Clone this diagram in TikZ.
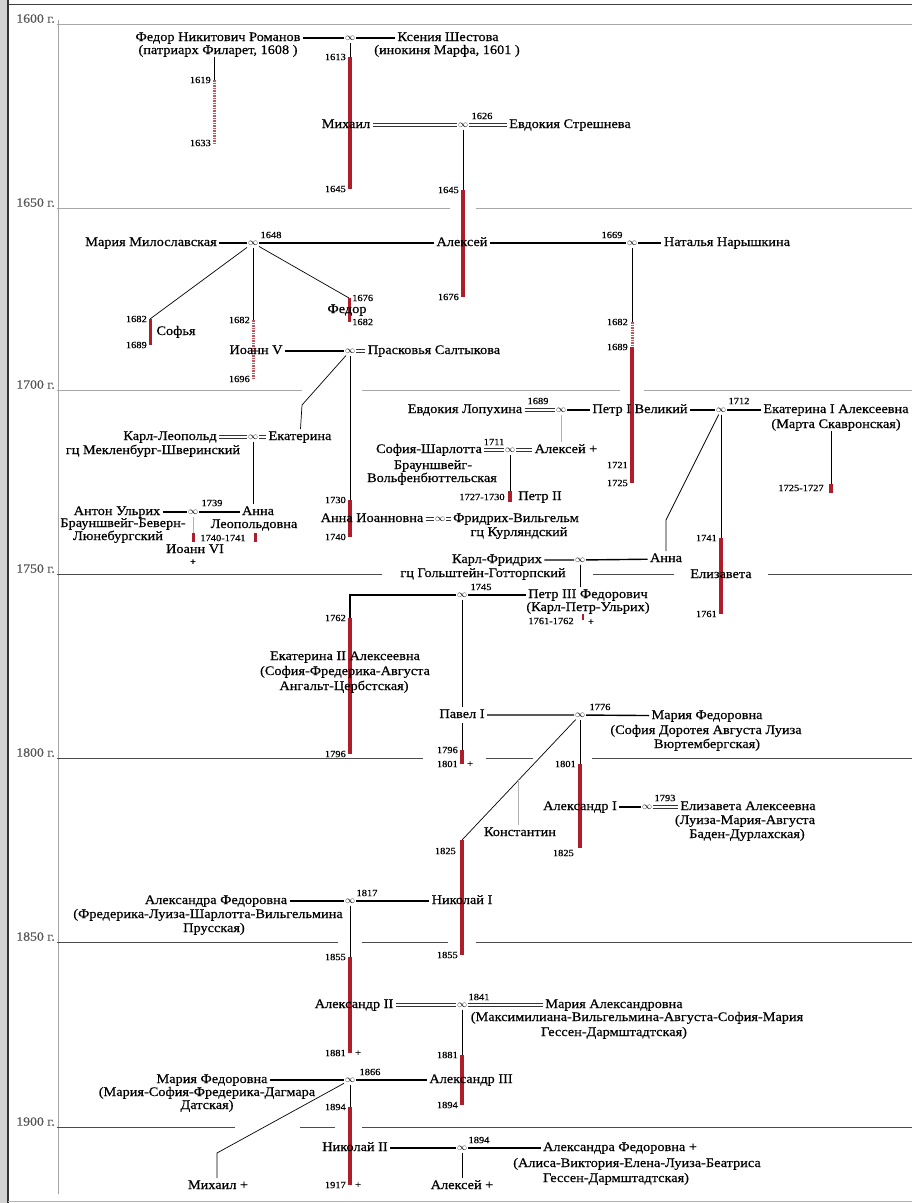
\documentclass[tikz,border=0pt]{standalone}
\usepackage{fontspec}
\setmainfont{Liberation Serif}[FakeStretch=1.1,FakeBold=0.5]
\usetikzlibrary{calc,positioning}
\definecolor{reignred}{RGB}{175,28,42}
\newcommand\nmfont{\fontsize{13}{14}\selectfont}
\newcommand\yrfont{\fontsize{9.5}{10}\selectfont}
\tikzset{
    person/.style={font=\nmfont, inner sep=0pt, outer sep=2.5pt,
        text height=8.5pt, text depth=2.5pt},
    subline/.style={font=\nmfont, inner sep=0pt,
        text height=8.5pt, text depth=2.5pt},
    yr/.style={font=\yrfont, inner sep=1pt},
    wed/.style={font=\normalsize, inner sep=0pt, outer sep=1pt,
        minimum width=10pt, minimum height=7pt},
    wedthick/.style={line width=1.4pt},
    wedpairline/.style={line width=0.7pt, black!80},
    kin/.style={line width=0.7pt},
    kinfaint/.style={gray!60, line width=0.7pt},
    reign/.style={draw=reignred, line width=4pt},
    coreign/.style={draw=reignred!75, line width=3pt, dash pattern=on 1.5pt off 1pt},
    era/.style={gray!70, line width=1pt},
    eradark/.style={black!70, line width=1pt},
    eralabel/.style={font=\fontsize{12.5}{12.5}\selectfont, text=black!65,
        anchor=south east, inner sep=1pt},
}
\newcommand\wedpair[2]{%
    \draw[wedpairline] ([yshift=1.3pt]#1.east) -- ([yshift=1.3pt]#2.west);
    \draw[wedpairline] ([yshift=-1.3pt]#1.east) -- ([yshift=-1.3pt]#2.west);}
\begin{document}
\begin{tikzpicture}[x=1pt,y=-1pt]
    \fill[white] (0,0) rectangle (912,1203);
    \useasboundingbox (0,0) rectangle (912,1203);
    \fill[gray!35] (0,0) rectangle (7,1203);
    \draw[black!80,line width=1.2pt] (8,0) -- (8,1203);
    \draw[black!75,line width=1.5pt] (8,4.5) -- (912,4.5);
    \draw[gray!60,line width=1pt] (8,1201) -- (912,1201);
    \draw[era] (58,20) -- (58,1194);
    \foreach \yy/\lab in {24/1600,208/1650,390/1700,574/1750,758/1800,942/1850,1127/1900}
        \node[eralabel] (era\lab) at (56,\yy) {\lab~г.};
    \foreach \yy/\xa/\xb/\st in {24/57/912/era, 208/57/450/era, 208/476/912/era,
            390/57/302/era, 390/362/620/era, 390/644/912/era,
            574/57/382/eradark, 574/593/674/eradark, 574/768/912/eradark,
            758/57/423/eradark, 758/486/533/eradark, 758/592/912/eradark,
            942/57/338/eradark, 942/362/448/eradark, 942/476/912/eradark,
            1127/57/235/eradark, 1127/300/335/eradark, 1127/362/912/eradark}
        \draw[\st] (\xa,\yy) -- (\xb,\yy);

    % 1600-1650
    \node[person] (fedor) at (218,38) {Федор Никитович Романов};
    \node[subline] (fedorB) at (218,51) {(патриарх Филарет, 1608 )};
    \node[wed] (wFK) at (350,38) {$\infty$};
    \node[person] (ksenia) at (448,38) {Ксения Шестова};
    \node[subline] (kseniaB) at (447,51) {(инокиня Марфа, 1601 )};
    \draw[wedthick] (fedor) -- (wFK) -- (ksenia);
    \coordinate (fil1) at (214,80);
    \coordinate (fil2) at (214,143);
    \draw[kin] (fedorB.south -| fil1) -- (fil1);
    \draw[coreign] (fil1) -- (fil2);
    \node[yr,left=2pt of fil1] (y1619) {1619};
    \node[yr,left=2pt of fil2] (y1633) {1633};

    \coordinate (mik1) at (350,57);
    \coordinate (mik2) at (350,189);
    \draw[kin] (wFK) -- (mik1);
    \draw[reign] (mik1) -- (mik2);
    \node[yr,left=3pt of mik1] (y1613) {1613};
    \node[yr,left=3pt of mik2] (y1645a) {1645};
    \node[person] (mikhail) at (346,125) {Михаил};
    \node[wed] (wME) at (463,125) {$\infty$};
    \node[yr] (y1626) at (482,116) {1626};
    \node[person] (evdokiaS) at (570,125) {Евдокия Стрешнева};
    \wedpair{mikhail}{wME}
    \wedpair{wME}{evdokiaS}

    \coordinate (ale1) at (463,190);
    \coordinate (ale2) at (463,297);
    \draw[kin] (wME) -- (ale1);
    \draw[reign] (ale1) -- (ale2);
    \node[yr,left=3pt of ale1] (y1645b) {1645};
    \node[yr,left=3pt of ale2] (y1676a) {1676};

    % 1650-1700
    \node[person] (alexei) at (462,243) {Алексей};
    \node[person] (mariaM) at (151,243) {Мария Милославская};
    \node[wed] (wAM) at (253,243) {$\infty$};
    \node[yr] (y1648) at (271,235) {1648};
    \node[wed] (wAN) at (632,243) {$\infty$};
    \node[yr] (y1669) at (612,235) {1669};
    \node[person] (natalia) at (727,243) {Наталья Нарышкина};
    \draw[wedthick] (mariaM) -- (wAM) -- (alexei) -- (wAN) -- (natalia);

    \coordinate (sof1) at (150,319);
    \coordinate (sof2) at (150,345);
    \draw[kin] (wAM) -- (sof1);
    \draw[reign,line width=3pt] (sof1) -- (sof2);
    \node[yr,left=2pt of sof1] (y1682a) {1682};
    \node[yr,left=2pt of sof2] (y1689a) {1689};
    \node[person] (sofia) at (176,332) {Софья};

    \coordinate (iv1) at (253,320);
    \coordinate (iv2) at (253,379);
    \draw[kin] (wAM) -- (iv1);
    \draw[coreign] (iv1) -- (iv2);
    \node[yr,left=2pt of iv1] (y1682b) {1682};
    \node[yr,left=2pt of iv2] (y1696) {1696};
    \node[person] (ivan5) at (256,351) {Иоанн V};
    \node[wed] (wIP) at (350,351) {$\infty$};
    \node[person] (praskovia) at (434,351) {Прасковья Салтыкова};
    \draw[wedthick] (ivan5) -- (wIP);
    \wedpair{wIP}{praskovia}

    \coordinate (fe1) at (349,298);
    \coordinate (fe2) at (349,322);
    \draw[kin] (wAM) -- (fe1);
    \draw[reign,line width=3pt] (fe1) -- (fe2);
    \node[yr,right=2pt of fe1] (y1676b) {1676};
    \node[yr,right=2pt of fe2] (y1682c) {1682};
    \node[person] (fedor3) at (347,310) {Федор};

    \coordinate (pe1) at (632,322);
    \coordinate (pe2) at (632,347);
    \coordinate (pe3) at (632,465);
    \coordinate (pe4) at (632,483);
    \draw[kin] (wAN) -- (pe1);
    \draw[coreign] (pe1) -- (pe2);
    \draw[reign] (pe2) -- (pe4);
    \node[yr,left=3pt of pe1] (y1682d) {1682};
    \node[yr,left=3pt of pe2] (y1689b) {1689};
    \node[yr,left=3pt of pe3] (y1721) {1721};
    \node[yr,left=3pt of pe4] (y1725a) {1725};

    % 1700-1750
    \coordinate (ekI1) at (302,405);
    \node[person] (ekaterinaI) at (300,437) {Екатерина};
    \draw[kin] (wIP) -- (ekI1) -- (ekaterinaI);
    \node[person] (karlL) at (170,437) {Карл-Леопольд};
    \node[subline] (karlLB) at (153,451) {гц Мекленбург-Шверинский};
    \node[wed] (wKE) at (253,437) {$\infty$};
    \wedpair{karlL}{wKE}
    \wedpair{wKE}{ekaterinaI}

    \node[person] (annaL) at (258,512) {Анна};
    \node[subline] (annaLB) at (254,525) {Леопольдовна};
    \draw[kin] (wKE) -- (wKE |- annaL.north);
    \node[person] (antonU) at (117,512) {Антон Ульрих};
    \node[subline] (antonUB) at (123,524) {Брауншвейг-Беверн-};
    \node[subline] (antonUC) at (118,537) {Люнебургский};
    \node[wed] (wAA) at (193,512) {$\infty$};
    \node[yr] (y1739) at (212,503) {1739};
    \draw[wedthick] (antonU) -- (wAA) -- (annaL);
    \coordinate (io1) at (193,533);
    \coordinate (io2) at (193,542);
    \draw[kinfaint] (wAA) -- (io1);
    \draw[reign,line width=3pt] (io1) -- (io2);
    \coordinate (al1) at (255,533);
    \coordinate (al2) at (255,542);
    \draw[reign,line width=3pt] (al1) -- (al2);
    \node[yr] (y1740a) at (223,538) {1740-1741};
    \node[person] (ioann6) at (195,550) {Иоанн VI};
    \node[yr] (ioann6x) at (193,562) {+};

    \coordinate (ai1) at (350,500);
    \coordinate (ai2) at (350,537);
    \draw[kin] (wIP) -- (ai1);
    \draw[reign] (ai1) -- (ai2);
    \node[yr,left=3pt of ai1] (y1730) {1730};
    \node[yr,left=3pt of ai2] (y1740b) {1740};
    \node[person] (annaI) at (372,519) {Анна Иоанновна};
    \node[wed] (wAF) at (440,519) {$\infty$};
    \node[person] (fridrich) at (516,519) {Фридрих-Вильгельм};
    \node[subline] (fridrichB) at (519,533) {гц Курляндский};
    \wedpair{annaI}{wAF}
    \wedpair{wAF}{fridrich}

    \node[person] (evdokiaL) at (465,410) {Евдокия Лопухина};
    \node[yr] (y1689c) at (538,401) {1689};
    \node[wed] (wEP) at (561,410) {$\infty$};
    \node[person] (peter1) at (640,410) {Петр I Великий};
    \node[wed] (wPE) at (721,410) {$\infty$};
    \node[yr] (y1712) at (739,401) {1712};
    \node[person] (ekaterina1) at (836,410) {Екатерина I Алексеевна};
    \node[subline] (ekaterina1B) at (836,425) {(Марта Скавронская)};
    \wedpair{evdokiaL}{wEP}
    \draw[wedthick] (wEP) -- (peter1) -- (wPE) -- (ekaterina1);

    \coordinate (ek1) at (831,484);
    \coordinate (ek2) at (831,493);
    \draw[kin] (ekaterina1B.south -| ek1) -- (ek1);
    \draw[reign] (ek1) -- (ek2);
    \node[yr] (y1725b) at (801,488) {1725-1727};

    \node[person] (alexeiP) at (566,450) {Алексей +};
    \draw[kinfaint] (wEP) -- (wEP |- alexeiP.north);
    \node[person] (sofiaC) at (429,450) {София-Шарлотта};
    \node[subline] (sofiaCB) at (433,466) {Брауншвейг-};
    \node[subline] (sofiaCC) at (432,479) {Вольфенбюттельская};
    \node[wed] (wSA) at (510,450) {$\infty$};
    \node[yr] (y1711) at (494,442) {1711};
    \wedpair{sofiaC}{wSA}
    \wedpair{wSA}{alexeiP}
    \coordinate (p2a) at (510,491);
    \coordinate (p2b) at (510,502);
    \draw[kin] (wSA) -- (p2a);
    \draw[reign] (p2a) -- (p2b);
    \node[yr] (y1727) at (482,497) {1727-1730};
    \node[person] (peter2) at (540,497) {Петр II};

    \coordinate (el1) at (721,538);
    \coordinate (el2) at (721,614);
    \draw[kin] (wPE) -- (el1);
    \draw[reign] (el1) -- (el2);
    \node[yr,left=3pt of el1] (y1741) {1741};
    \node[yr,left=3pt of el2] (y1761a) {1761};
    \node[person] (elizaveta) at (721,575) {Елизавета};

    \coordinate (ap1) at (666,520);
    \node[person] (annaP) at (666,559) {Анна};
    \draw[kin] (wPE) -- (ap1) -- (annaP);
    \node[person] (karlF) at (497,560) {Карл-Фридрих};
    \node[subline] (karlFB) at (483,574) {гц Гольштейн-Готторпский};
    \node[wed] (wKA) at (580,560) {$\infty$};
    \draw[wedthick] (karlF) -- (wKA) -- (annaP);

    % 1750-1800
    \node[person] (peter3) at (588,595) {Петр III Федорович};
    \node[subline] (peter3B) at (588,608) {(Карл-Петр-Ульрих)};
    \draw[kin] (wKA) -- (wKA |- peter3.north);
    \node[wed] (wEP3) at (462,595) {$\infty$};
    \node[yr] (y1745) at (481,587) {1745};
    \draw[wedthick] (wEP3) -- (peter3);
    \node[yr] (y1761b) at (551,621) {1761-1762};
    \coordinate (p3a) at (583,614);
    \coordinate (p3b) at (583,620);
    \draw[reign,line width=2.5pt] (p3a) -- (p3b);
    \node[yr] (p3x) at (591,622) {+};

    \coordinate (ek2c) at (350,595);
    \coordinate (e2a) at (350,618);
    \coordinate (e2b) at (350,754);
    \draw[wedthick] (wEP3) -- (ek2c) -- (e2a);
    \draw[reign] (e2a) -- (e2b);
    \node[yr,left=3pt of e2a] (y1762) {1762};
    \node[yr,left=3pt of e2b] (y1796a) {1796};
    \node[subline] (ekaterina2) at (345,657) {Екатерина II Алексеевна};
    \node[subline] (ekaterina2B) at (345,672) {(София-Фредерика-Августа};
    \node[subline] (ekaterina2C) at (344,687) {Ангальт-Цербстская)};

    \node[person] (pavel) at (462,715) {Павел I};
    \coordinate (pa1) at (462,750);
    \coordinate (pa2) at (462,764);
    \draw[kin] (wEP3) -- (pavel);
    \draw[kin] (pavel) -- (pa1);
    \draw[reign] (pa1) -- (pa2);
    \node[yr,left=3pt of pa1] (y1796b) {1796};
    \node[yr,left=3pt of pa2] (y1801a) {1801};
    \node[yr,right=4pt of pa2] (pax) {+};
    \node[wed] (wPM) at (580,715) {$\infty$};
    \node[yr] (y1776) at (600,707) {1776};
    \node[person] (mariaF) at (707,716) {Мария Федоровна};
    \node[subline] (mariaFB) at (706,731) {(София Доротея Августа Луиза};
    \node[subline] (mariaFC) at (707,745) {Вюртембергская)};
    \draw[wedthick] (pavel) -- (wPM) -- (mariaF);

    % 1800-1850
    \coordinate (a1a) at (580,764);
    \coordinate (a1b) at (580,848);
    \draw[kin] (wPM) -- (a1a);
    \draw[reign] (a1a) -- (a1b);
    \node[yr,left=3pt of a1a] (y1801b) {1801};
    \node[yr,anchor=east] (y1825a) at (575,853) {1825};
    \node[person] (alex1) at (580,807) {Александр I};
    \node[wed] (wAE) at (647,807) {$\infty$};
    \node[yr] (y1793) at (665,798) {1793};
    \node[person] (elizA) at (748,807) {Елизавета Алексеевна};
    \node[subline] (elizAB) at (745,821) {(Луиза-Мария-Августа};
    \node[subline] (elizAC) at (747,835) {Баден-Дурлахская)};
    \draw[wedthick] (alex1) -- (wAE);
    \wedpair{wAE}{elizA}

    \coordinate (n1a) at (462,840);
    \coordinate (n1b) at (462,955);
    \draw[kin] (wPM) -- (n1a);
    \draw[reign] (n1a) -- (n1b);
    \node[yr,anchor=east] (y1825b) at (457,851) {1825};
    \node[yr,left=3pt of n1b] (y1855a) {1855};
    \coordinate (ko1) at ($(wPM)!0.52!(n1a)$);
    \node[person] (konst) at (520,833) {Константин};
    \draw[kinfaint] (ko1) -- (ko1 |- konst.north);
    \node[person] (nick1) at (462,901) {Николай I};

    \node[person] (alexandraF) at (216,901) {Александра Федоровна};
    \node[subline] (alexandraFB) at (208,915) {(Фредерика-Луиза-Шарлотта-Вильгельмина};
    \node[subline] (alexandraFC) at (214,929) {Прусская)};
    \node[wed] (wAN1) at (350,901) {$\infty$};
    \node[yr] (y1817) at (367,893) {1817};
    \draw[wedthick] (alexandraF) -- (wAN1) -- (nick1);

    % 1850-1917
    \coordinate (a2a) at (350,957);
    \coordinate (a2b) at (350,1053);
    \draw[kin] (wAN1) -- (a2a);
    \draw[reign] (a2a) -- (a2b);
    \node[yr,left=3pt of a2a] (y1855b) {1855};
    \node[yr,left=3pt of a2b] (y1881a) {1881};
    \node[yr,right=4pt of a2b] (a2x) {+};
    \node[person] (alex2) at (354,1005) {Александр II};
    \node[wed] (wAM2) at (462,1005) {$\infty$};
    \node[yr] (y1841) at (479,997) {1841};
    \node[person] (mariaA) at (614,1005) {Мария Александровна};
    \node[subline] (mariaAB) at (637,1018) {(Максимилиана-Вильгельмина-Августа-София-Мария};
    \node[subline] (mariaAC) at (614,1033) {Гессен-Дармштадтская)};
    \wedpair{alex2}{wAM2}
    \wedpair{wAM2}{mariaA}

    \coordinate (a3a) at (462,1055);
    \coordinate (a3b) at (462,1105);
    \draw[kin] (wAM2) -- (a3a);
    \draw[reign] (a3a) -- (a3b);
    \node[yr,left=3pt of a3a] (y1881b) {1881};
    \node[yr,left=3pt of a3b] (y1894a) {1894};
    \node[person] (alex3) at (471,1080) {Александр III};
    \node[person] (mariaFD) at (212,1080) {Мария Федоровна};
    \node[subline] (mariaFDB) at (207,1093) {(Мария-София-Фредерика-Дагмара};
    \node[subline] (mariaFDC) at (207,1106) {Датская)};
    \node[wed] (wMA) at (350,1080) {$\infty$};
    \node[yr] (y1866) at (370,1072) {1866};
    \draw[wedthick] (mariaFD) -- (wMA) -- (alex3);

    \coordinate (n2a) at (350,1107);
    \coordinate (n2b) at (350,1185);
    \draw[kin] (wMA) -- (n2a);
    \draw[reign] (n2a) -- (n2b);
    \node[yr,left=3pt of n2a] (y1894b) {1894};
    \node[yr,left=3pt of n2b] (y1917) {1917};
    \node[yr,right=4pt of n2b] (n2x) {+};
    \node[person] (nick2) at (355,1148) {Николай II};
    \node[wed] (wNA) at (462,1148) {$\infty$};
    \node[yr] (y1894c) at (479,1140) {1894};
    \node[person] (alexandraF2) at (620,1148) {Александра Федоровна +};
    \node[subline] (alexandraF2B) at (637,1164) {(Алиса-Виктория-Елена-Луиза-Беатриса};
    \node[subline] (alexandraF2C) at (616,1179) {Гессен-Дармштадтская)};
    \draw[wedthick] (nick2) -- (wNA) -- (alexandraF2);
    \node[person] (alexeiN) at (462,1186) {Алексей +};
    \draw[kin] (wNA) -- (alexeiN);
    \coordinate (mi1) at (217,1153);
    \node[person] (mikhail2) at (218,1186) {Михаил +};
    \draw[kin] (wMA) -- (mi1) -- (mi1 |- mikhail2.north);
\end{tikzpicture}
\end{document}
